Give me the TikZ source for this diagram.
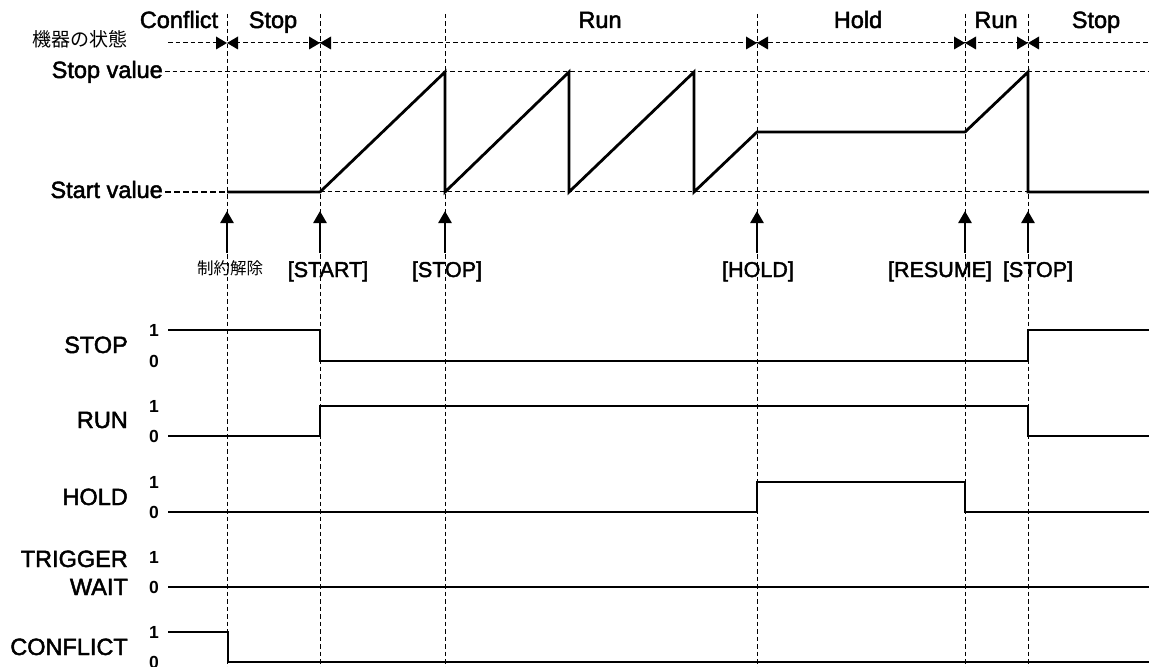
\documentclass[tikz,border=0pt]{standalone}
\usepackage{fontspec}
\setmainfont{Liberation Sans}
\newfontfamily\lblfont{Liberation Sans}[FakeBold=2]
\newfontfamily\jpfont{Noto Sans CJK JP}
\usetikzlibrary{arrows.meta}
\begin{document}
\begin{tikzpicture}[x=1bp,y=-1bp,
  sig/.style={line width=2.8bp, line join=miter},
  guide/.style={line width=1bp, dash pattern=on 4.5bp off 3bp},
  boldguide/.style={line width=2bp, dash pattern=on 6bp off 3bp},
  toplbl/.style={font=\lblfont\fontsize{23.5bp}{27bp}\selectfont, inner sep=0, anchor=base},
  sidelbl/.style={font=\lblfont\fontsize{23.5bp}{27bp}\selectfont, inner sep=0, anchor=base east},
  cmdlbl/.style={font=\lblfont\fontsize{21.5bp}{25bp}\selectfont, inner sep=0, anchor=base},
  digit/.style={font=\bfseries\fontsize{17.5bp}{20bp}\selectfont, inner sep=0, anchor=east},
  evarrow/.style={line width=2.6bp, -{Triangle[length=12bp,width=13bp]}},
  bow/.style={fill=black}
]
\useasboundingbox (0,0) rectangle (1149,667);

% vertical guides
\foreach \x in {227,320,445,757,965,1028} \draw[guide] (\x,14) -- (\x,667);

% state line and bowties
\draw[guide] (168,43) -- (1149,43);
\foreach \x in {227,320,757,965,1028} {
  \fill[bow] (\x-11,36.5) -- (\x,43) -- (\x-11,49.5) -- cycle;
  \fill[bow] (\x+11,36.5) -- (\x,43) -- (\x+11,49.5) -- cycle;
}

% value levels
\draw[guide] (165,72) -- (1149,72);
\draw[boldguide] (165,192) -- (227,192);
\draw[guide] (320,192) -- (1028,192);

% value trace
\draw[sig] (227,192) -- (320,192) -- (445,72) -- (445,192) -- (569,72) -- (569,192)
  -- (694,72) -- (694,192) -- (757,132) -- (965,132) -- (1028,72) -- (1028,192) -- (1149,192);

% top labels
\node[toplbl] (tConflict) at (179,28) {Conflict};
\node[toplbl] (tStop1) at (273,28) {Stop};
\node[toplbl] (tRun1) at (600,28) {Run};
\node[toplbl] (tHold) at (858,28) {Hold};
\node[toplbl] (tRun2) at (996,28) {Run};
\node[toplbl] (tStop2) at (1096,28) {Stop};
\node[font=\jpfont\fontsize{19bp}{22bp}\selectfont, inner sep=0, anchor=base east] (tState) at (128,47) {機器の状態};
\node[sidelbl] (tStopVal) at (163,78) {Stop value};
\node[sidelbl] (tStartVal) at (163,198) {Start value};

% event arrows
\foreach \x/\n in {227/a,320/b,445/c,757/d,965/e,1028/f} {
  \coordinate (s\n) at (\x,253);
  \coordinate (h\n) at (\x,211);
  \draw[evarrow] (s\n) -- (h\n);
}
\node[font=\jpfont\fontsize{16.5bp}{20bp}\selectfont, inner sep=0, anchor=base] (eRelease) at (230,274) {制約解除};
\node[cmdlbl] (eStart) at (328,277) {[START]};
\node[cmdlbl] (eStop1) at (447,277) {[STOP]};
\node[cmdlbl] (eHold) at (758,277) {[HOLD]};
\node[cmdlbl] (eResume) at (940,277) {[RESUME]};
\node[cmdlbl] (eStop2) at (1038,277) {[STOP]};

% signal labels
\node[sidelbl] (nStop) at (128,353) {STOP};
\node[sidelbl] (nRun) at (128,428) {RUN};
\node[sidelbl] (nHold) at (128,505) {HOLD};
\node[sidelbl] (nTrig) at (128,567) {TRIGGER};
\node[sidelbl] (nWait) at (128,595) {WAIT};
\node[sidelbl] (nConf) at (128,655) {CONFLICT};

\foreach \y/\n in {330/a,406/b,482/c,557/d,632/e} \node[digit] (one\n) at (159,\y) {1};
\foreach \y/\n in {361/a,436/b,512/c,587/d,662/e} \node[digit] (zero\n) at (159,\y) {0};

% signal traces
\draw[sig] (168,330) -- (320,330) -- (320,361) -- (1028,361) -- (1028,330) -- (1149,330);
\draw[sig] (168,436) -- (320,436) -- (320,406) -- (1028,406) -- (1028,436) -- (1149,436);
\draw[sig] (168,512) -- (757,512) -- (757,482) -- (965,482) -- (965,512) -- (1149,512);
\draw[sig] (168,587) -- (1149,587);
\draw[sig] (168,632) -- (228,632) -- (228,662) -- (1149,662);
\end{tikzpicture}
\end{document}
